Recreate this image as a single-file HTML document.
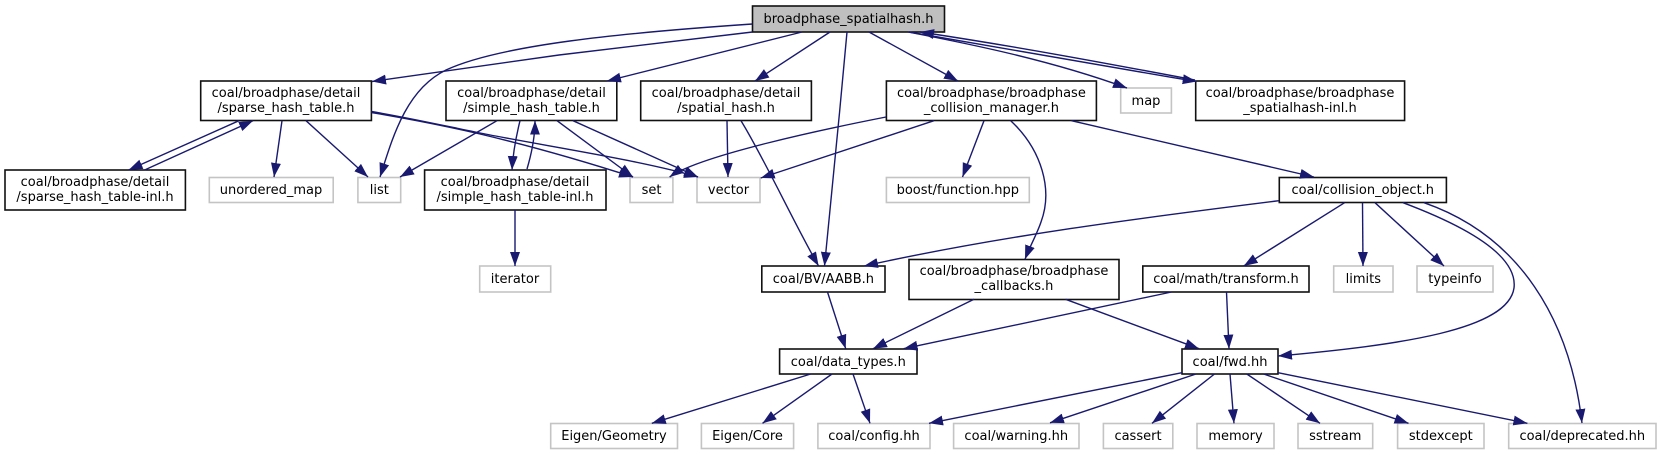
<!DOCTYPE html>
<html><head><meta charset="utf-8">
<style>
html,body{margin:0;padding:0;background:#fff}
svg{display:block}
text{font-family:"DejaVu Sans","Liberation Sans",sans-serif;font-size:13px;fill:#000;text-anchor:middle}
.b{fill:#fff;stroke:#111;stroke-width:1.6}
.g{fill:#fff;stroke:#c4c4c4;stroke-width:1.6}
.r{fill:#bfbfbf;stroke:#111;stroke-width:1.6}
path{fill:none;stroke:#191970;stroke-width:1.4;marker-end:url(#a)}
</style></head><body>
<svg width="1661" height="455" viewBox="0 0 1661 455" xmlns="http://www.w3.org/2000/svg">
<defs><marker id="a" markerUnits="userSpaceOnUse" markerWidth="15" markerHeight="11" refX="14" refY="5" orient="auto"><polygon points="0,0 14,5 0,10" fill="#191970"/></marker></defs>

<rect class="r" x="752.5" y="6" width="192" height="26"/><text x="848.5" y="23">broadphase_spatialhash.h</text>
<rect class="b" x="200.7" y="81" width="170.7" height="39.5"/><text x="286" y="97">coal/broadphase/detail</text><text x="286" y="112">/sparse_hash_table.h</text>
<rect class="b" x="5" y="170" width="180.4" height="40"/><text x="95" y="186">coal/broadphase/detail</text><text x="95" y="201">/sparse_hash_table-inl.h</text>
<rect class="g" x="209.3" y="177.5" width="123.9" height="25"/><text x="271" y="194">unordered_map</text>
<rect class="g" x="357.9" y="177.5" width="42.8" height="25"/><text x="379.3" y="194">list</text>
<rect class="b" x="446" y="81" width="170.8" height="39.5"/><text x="531.5" y="97">coal/broadphase/detail</text><text x="531.5" y="112">/simple_hash_table.h</text>
<rect class="b" x="424.6" y="170" width="181.4" height="40"/><text x="515" y="186">coal/broadphase/detail</text><text x="515" y="201">/simple_hash_table-inl.h</text>
<rect class="b" x="640.7" y="81" width="170.7" height="39.5"/><text x="726" y="97">coal/broadphase/detail</text><text x="726" y="112">/spatial_hash.h</text>
<rect class="b" x="886.4" y="81" width="210" height="39.5"/><text x="991.4" y="97">coal/broadphase/broadphase</text><text x="991.4" y="112">_collision_manager.h</text>
<rect class="g" x="630" y="177.5" width="42.9" height="25"/><text x="651.5" y="194">set</text>
<rect class="g" x="697" y="177.5" width="63" height="25"/><text x="728.5" y="194">vector</text>
<rect class="g" x="886.4" y="177.5" width="142.9" height="25"/><text x="957.8" y="194">boost/function.hpp</text>
<rect class="g" x="1120.7" y="88" width="50.7" height="25"/><text x="1146" y="105">map</text>
<rect class="b" x="1195.7" y="81" width="208.9" height="39.5"/><text x="1300" y="97">coal/broadphase/broadphase</text><text x="1300" y="112">_spatialhash-inl.h</text>
<rect class="b" x="1279.3" y="177.5" width="167.1" height="25"/><text x="1362.8" y="194">coal/collision_object.h</text>
<rect class="g" x="479.7" y="266" width="71" height="26"/><text x="515" y="283">iterator</text>
<rect class="b" x="761.8" y="266" width="123.2" height="26"/><text x="823.4" y="283">coal/BV/AABB.h</text>
<rect class="b" x="909" y="259.5" width="210" height="40"/><text x="1014" y="275">coal/broadphase/broadphase</text><text x="1014" y="290">_callbacks.h</text>
<rect class="b" x="1142.8" y="266" width="166.2" height="26"/><text x="1226" y="283">coal/math/transform.h</text>
<rect class="g" x="1333.7" y="266" width="59.3" height="26"/><text x="1363.3" y="283">limits</text>
<rect class="g" x="1417" y="266" width="76" height="26"/><text x="1455" y="283">typeinfo</text>
<rect class="b" x="779.6" y="349" width="137.4" height="25"/><text x="848.3" y="366">coal/data_types.h</text>
<rect class="b" x="1182" y="349" width="96" height="25"/><text x="1230" y="366">coal/fwd.hh</text>
<rect class="g" x="550.7" y="423.5" width="126.8" height="25"/><text x="614" y="440">Eigen/Geometry</text>
<rect class="g" x="701.4" y="423.5" width="92.2" height="25"/><text x="747.5" y="440">Eigen/Core</text>
<rect class="g" x="817.9" y="423.5" width="112.1" height="25"/><text x="874" y="440">coal/config.hh</text>
<rect class="g" x="953.6" y="423.5" width="125.4" height="25"/><text x="1016.3" y="440">coal/warning.hh</text>
<rect class="g" x="1103.4" y="423.5" width="69.4" height="25"/><text x="1138" y="440">cassert</text>
<rect class="g" x="1197" y="423.5" width="77" height="25"/><text x="1235.5" y="440">memory</text>
<rect class="g" x="1298" y="423.5" width="74.7" height="25"/><text x="1335.3" y="440">sstream</text>
<rect class="g" x="1397.6" y="423.5" width="86.4" height="25"/><text x="1440.8" y="440">stdexcept</text>
<rect class="g" x="1508.7" y="423.5" width="147.3" height="25"/><text x="1582.3" y="440">coal/deprecated.hh</text>

<path d="M752.5,32 L559,55 L372,81.5"/>
<path d="M752.5,24 C620,33 500,45 446,70 C405,90 392,140 380,177"/>
<path d="M802,32 L607,81"/>
<path d="M830,32 L755,81"/>
<path d="M869,32 L958,81"/>
<path d="M847,32 C840,110 832,190 824.5,266"/>
<path d="M908,32 C970,44 1050,60 1127,88"/>
<path d="M909,32 C980,45 1090,64 1196.7,81.5"/>
<path d="M1195,80 C1110,64 1020,47 920,32"/>
<path d="M239,120.7 L128.6,170"/>
<path d="M144.6,170 L253,120.7"/>
<path d="M282,120.7 L274,177"/>
<path d="M306,120.7 L368,177"/>
<path d="M371.4,112.5 C410,119 450,127 480,134 C535,147 580,160 633,177"/>
<path d="M371.4,111.5 C410,118 450,127 480,133 C545,146 640,160 698,177"/>
<path d="M497,120.7 L400,177"/>
<path d="M520,120.7 C516,137 513,152 512,170"/>
<path d="M527,169 C532,152 535,137 535,120.7"/>
<path d="M557,120.7 L633,177"/>
<path d="M573,120.7 L698,177"/>
<path d="M515,210 L515,266"/>
<path d="M727,120.7 L728,177"/>
<path d="M741,120.7 C765,160 795,225 818.6,266"/>
<path d="M886,117 C830,128 700,155 669.6,177"/>
<path d="M934,120.7 L760.7,178"/>
<path d="M984,120.7 L962.5,177"/>
<path d="M1010.7,120.7 C1042,150 1053,190 1041,222 C1037,234 1030,246 1025,259.3"/>
<path d="M1071.4,120.7 L1314,177"/>
<path d="M1279,200.7 C1140,218 1000,236 864,266"/>
<path d="M1344.6,202.7 L1243.7,266"/>
<path d="M1362.5,202.7 L1363,266"/>
<path d="M1375,202.7 L1444,266"/>
<path d="M1403,202.7 C1465,226 1518,255 1514,288 C1508,330 1400,345 1278,356"/>
<path d="M1424,202.7 C1520,236 1570,320 1582,423"/>
<path d="M827.5,292 L845.7,348.7"/>
<path d="M974,299.3 L873,348.7"/>
<path d="M1065.6,299.3 L1199,348.7"/>
<path d="M1171.6,292 L903.6,348.7"/>
<path d="M1226.5,292 L1229,348.7"/>
<path d="M810.7,374 L651.8,423.3"/>
<path d="M832,374 L762.5,423.3"/>
<path d="M853,374 L870,423.3"/>
<path d="M1182,372.7 L929,423.3"/>
<path d="M1196,374 L1050,422.8"/>
<path d="M1214.5,374 L1152,423.3"/>
<path d="M1230,374 L1234,423.3"/>
<path d="M1246.8,374 L1320,423.3"/>
<path d="M1263.6,374 L1408.5,423.3"/>
<path d="M1278,372.7 L1527.4,423.3"/>
</svg>
</body></html>
